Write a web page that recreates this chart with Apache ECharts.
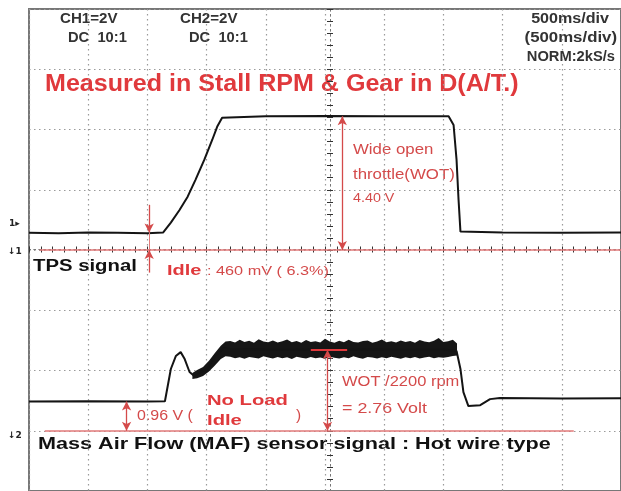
<!DOCTYPE html>
<html>
<head>
<meta charset="utf-8">
<style>
  html, body { margin: 0; padding: 0; background: #fff; }
  #chart { width: 621px; height: 491px; }
</style>
<script src="https://cdn.jsdelivr.net/npm/echarts@6/dist/echarts.min.js"></script>
</head>
<body>
<div id="chart"></div>
<script>
// time in ms (500 ms/div), voltage in V (2 V/div on both channels)
const tpsTime = [0, 250, 500, 750, 1000, 1132, 1198, 1270, 1340, 1406, 1481, 1548, 1589, 1631, 2000, 2500, 3000, 3544, 3586, 3611, 3628, 3644, 4000, 4500, 5000];
const tpsVolt = [0.57, 0.56, 0.58, 0.57, 0.56, 0.58, 0.91, 1.32, 1.77, 2.33, 3.00, 3.66, 4.09, 4.39, 4.44, 4.45, 4.44, 4.44, 4.15, 3.00, 1.67, 0.61, 0.58, 0.57, 0.58];

const mafTime = [0, 500, 1000, 1148, 1198, 1240, 1281, 1315, 1356, 1398, 1448, 1506, 1572, 1647, 1689, 2000, 2500, 3000, 3500, 3611, 3644, 3669, 3711, 3811, 3894, 3977, 4500, 5000];
const mafVolt = [0.97, 0.98, 0.97, 0.98, 2.05, 2.48, 2.61, 2.38, 1.95, 1.81, 1.95, 2.05, 2.47, 2.75, 2.72, 2.70, 2.68, 2.70, 2.70, 2.65, 2.05, 1.28, 0.82, 0.85, 1.05, 1.09, 1.07, 1.08];

// noise envelope of the MAF trace at wide open throttle
const mafBandTime = [1380, 1420, 1470, 1520, 1570, 1620, 1660,
  1700, 1740, 1780, 1820, 1860, 1900, 1940, 1980, 2020, 2060, 2100, 2140, 2180, 2220, 2260, 2300,
  2340, 2380, 2420, 2460, 2500, 2540, 2580, 2620, 2660, 2700, 2740, 2780, 2820, 2860, 2900, 2940,
  2980, 3020, 3060, 3100, 3140, 3180, 3220, 3260, 3300, 3340, 3380, 3420, 3460, 3500, 3540, 3580, 3615];
const mafBandHigh = [1.92, 2.02, 2.12, 2.32, 2.58, 2.82, 2.96,
  2.98, 2.93, 3.02, 2.95, 2.99, 2.92, 3.04, 2.96, 2.94, 3.00, 2.93, 2.97, 3.03, 2.94, 2.98, 2.92,
  3.01, 2.95, 2.97, 2.93, 3.05, 2.96, 2.92, 2.99, 2.94, 3.02, 2.95, 2.93, 2.98, 3.00, 2.92, 2.96,
  3.03, 2.94, 2.97, 2.93, 3.00, 2.95, 2.98, 2.92, 3.01, 2.96, 2.94, 2.99, 3.08, 2.95, 2.97, 3.02, 2.90];
const mafBandLow = [1.72, 1.74, 1.82, 1.97, 2.17, 2.38, 2.47,
  2.46, 2.41, 2.44, 2.39, 2.45, 2.42, 2.40, 2.47, 2.43, 2.40, 2.45, 2.41, 2.44, 2.38, 2.46, 2.42,
  2.40, 2.45, 2.41, 2.43, 2.39, 2.46, 2.42, 2.40, 2.44, 2.41, 2.47, 2.42, 2.39, 2.45, 2.43, 2.40,
  2.44, 2.41, 2.46, 2.42, 2.39, 2.44, 2.41, 2.45, 2.40, 2.43, 2.46, 2.41, 2.44, 2.42, 2.45, 2.48, 2.50];

const RED = '#e0393c';
const RED_THIN = '#d44a4a';
const RED_LINE = '#e27a7a';
const GRID_DOT = { color: '#9a9a9a', type: [1.5, 3.5], width: 1.2 };

function pairs(xs, ys) {
  return xs.map((x, i) => [x, ys[i]]);
}

function label(text, x, y, font, fill, scaleX, align) {
  return {
    type: 'text', x: x, y: y, scaleX: scaleX || 1, silent: true,
    style: { text: text, x: 0, y: 0, font: font, fill: fill, textAlign: align || 'left', textVerticalAlign: 'middle' }
  };
}

function tickAxis(inside) {
  return {
    type: 'value', min: 0, max: 5000, interval: 100, position: 'bottom', offset: -241.5,
    axisLine: { show: true, onZero: false, lineStyle: { color: '#777', type: [1.5, 3.5] } },
    axisTick: { show: true, inside: inside, length: 3, lineStyle: { color: '#333' } },
    axisLabel: { show: false }, splitLine: { show: false }
  };
}

function tickAxisY(inside) {
  return {
    type: 'value', min: -8, max: 8, interval: 0.4, position: 'left', offset: -301,
    axisLine: { show: true, onZero: false, lineStyle: { color: '#777', type: [1.5, 3.5] } },
    axisTick: { show: true, inside: inside, length: 3, lineStyle: { color: '#333' } },
    axisLabel: { show: false }, splitLine: { show: false }
  };
}

const chart = echarts.init(document.getElementById('chart'), null, { renderer: 'canvas' });

const arrowLine = { color: RED_THIN, width: 1.3, type: 'solid' };
const groundLine = { color: RED_LINE, width: 1.5, type: 'solid' };

chart.setOption({
  animation: false,
  backgroundColor: '#fff',
  grid: { left: 29, top: 9, width: 601, height: 483, show: true, borderColor: '#777', borderWidth: 2, backgroundColor: '#fff' },
  xAxis: [
    {
      type: 'value', min: 0, max: 5000, interval: 500,
      axisLine: { show: false }, axisTick: { show: false }, axisLabel: { show: false },
      splitLine: { show: true, lineStyle: GRID_DOT }
    },
    tickAxis(false),
    tickAxis(true)
  ],
  yAxis: [
    {
      type: 'value', min: -8, max: 8, interval: 2,
      axisLine: { show: false }, axisTick: { show: false }, axisLabel: { show: false },
      splitLine: { show: true, lineStyle: GRID_DOT }
    },
    {
      type: 'value', min: -2, max: 14, interval: 2,
      axisLine: { show: false }, axisTick: { show: false }, axisLabel: { show: false },
      splitLine: { show: false }
    },
    tickAxisY(false),
    tickAxisY(true)
  ],
  series: [
    {
      name: 'TPS', type: 'line', xAxisIndex: 0, yAxisIndex: 0,
      data: pairs(tpsTime, tpsVolt), symbol: 'none', silent: true,
      lineStyle: { color: '#141414', width: 2 },
      markLine: {
        silent: true, label: { show: false }, symbolSize: [7, 9],
        lineStyle: arrowLine,
        data: [
          [{ coord: [90, 0], symbol: 'none', lineStyle: groundLine }, { coord: [5000, 0], symbol: 'none' }],
          [{ coord: [1015, 1.5], symbol: 'none', lineStyle: arrowLine }, { coord: [1015, 0.58], symbol: 'arrow' }],
          [{ coord: [1015, 0.58], symbol: 'none', lineStyle: { color: RED_LINE, width: 1, type: 'solid' } }, { coord: [1015, 0], symbol: 'none' }],
          [{ coord: [1015, -0.75], symbol: 'none', lineStyle: arrowLine }, { coord: [1015, 0], symbol: 'arrow' }],
          [{ coord: [2646, 4.44], symbol: 'arrow', lineStyle: arrowLine }, { coord: [2646, 0], symbol: 'arrow' }]
        ]
      }
    },
    {
      name: 'MAF band', type: 'custom', xAxisIndex: 0, yAxisIndex: 1, silent: true,
      data: [[mafBandTime[0], mafBandLow[0]]],
      renderItem: function (params, api) {
        const pts = [];
        for (let i = 0; i < mafBandTime.length; i++) pts.push(api.coord([mafBandTime[i], mafBandHigh[i]]));
        for (let i = mafBandTime.length - 1; i >= 0; i--) pts.push(api.coord([mafBandTime[i], mafBandLow[i]]));
        return { type: 'polygon', shape: { points: pts }, style: { fill: '#161616' } };
      }
    },
    {
      name: 'MAF', type: 'line', xAxisIndex: 0, yAxisIndex: 1,
      data: pairs(mafTime, mafVolt), symbol: 'none', silent: true,
      lineStyle: { color: '#141414', width: 2 },
      markLine: {
        silent: true, label: { show: false }, symbolSize: [7, 9],
        lineStyle: arrowLine,
        data: [
          [{ coord: [133, 0], symbol: 'none', lineStyle: groundLine }, { coord: [4601, 0], symbol: 'none' }],
          [{ coord: [824, 0.97], symbol: 'arrow', lineStyle: arrowLine }, { coord: [824, 0], symbol: 'arrow' }],
          [{ coord: [2521, 2.68], symbol: 'arrow', lineStyle: arrowLine }, { coord: [2521, 0], symbol: 'arrow' }],
          [{ coord: [2380, 2.68], symbol: 'none', lineStyle: { color: RED, width: 2, type: 'solid' } }, { coord: [2687, 2.68], symbol: 'none' }]
        ]
      }
    }
  ],
  graphic: [
    label('CH1=2V', 60, 19, 'bold 14px "Liberation Sans", Arial', '#333', 1.08),
    label('DC  10:1', 68, 38, 'bold 14px "Liberation Sans", Arial', '#333', 1.05),
    label('CH2=2V', 180, 19, 'bold 14px "Liberation Sans", Arial', '#333', 1.08),
    label('DC  10:1', 189, 38, 'bold 14px "Liberation Sans", Arial', '#333', 1.05),
    label('500ms/div', 609, 19, 'bold 14px "Liberation Sans", Arial', '#333', 1.15, 'right'),
    label('(500ms/div)', 617, 38, 'bold 14px "Liberation Sans", Arial', '#333', 1.2, 'right'),
    label('NORM:2kS/s', 615, 57, 'bold 14px "Liberation Sans", Arial', '#333', 1.05, 'right'),
    label('Measured in Stall RPM & Gear in D(A/T.)', 45, 85, 'bold 23px "Liberation Sans", Arial', RED, 1.09),
    label('TPS signal', 33, 267, 'bold 16px "Liberation Sans", Arial', '#111', 1.27),
    label('Idle', 167, 271, 'bold 15px "Liberation Sans", Arial', RED, 1.33),
    label(': 460 mV ( 6.3%)', 207, 271, '13px "Liberation Sans", Arial', RED_THIN, 1.25),
    label('Wide open', 353, 150, '14px "Liberation Sans", Arial', RED_THIN, 1.2),
    label('throttle(WOT)', 353, 175, '14px "Liberation Sans", Arial', RED_THIN, 1.2),
    label('4.40 V', 353, 198, '13px "Liberation Sans", Arial', RED_THIN, 1.1),
    label('Mass Air Flow (MAF) sensor signal : Hot wire type', 38, 444, 'bold 16.5px "Liberation Sans", Arial', '#111', 1.31),
    label('0.96 V (', 137, 416, '14px "Liberation Sans", Arial', RED_THIN, 1.14),
    label('No Load', 207, 401, 'bold 15px "Liberation Sans", Arial', RED, 1.35),
    label('Idle', 207, 421, 'bold 15px "Liberation Sans", Arial', RED, 1.35),
    label(')', 296, 416, '14px "Liberation Sans", Arial', RED_THIN, 1.1),
    label('WOT /2200 rpm', 342, 382, '15px "Liberation Sans", Arial', RED_THIN, 1.1),
    label('= 2.76 Volt', 342, 409, '15px "Liberation Sans", Arial', RED_THIN, 1.19),
    label('1\u25B8', 9, 224, 'bold 9px "DejaVu Sans"', '#222', 1),
    label('\u21931', 8, 252, 'bold 9px "DejaVu Sans"', '#222', 1),
    label('\u21932', 8, 436, 'bold 9px "DejaVu Sans"', '#222', 1)
  ]
});
</script>
</body>
</html>
